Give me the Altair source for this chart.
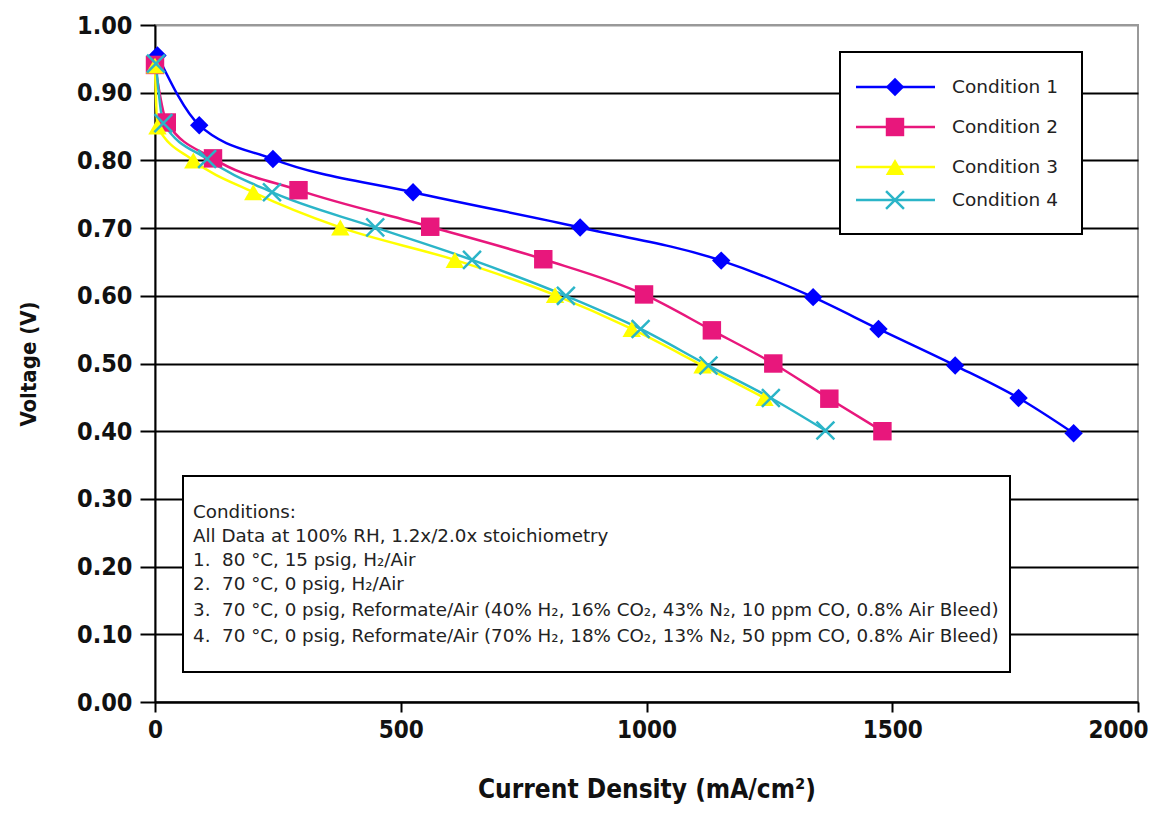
import altair as alt
import pandas as pd

conditions = ["Condition 1", "Condition 2", "Condition 3", "Condition 4"]
colors = ["#0000FF", "#E8177C", "#FFFF00", "#2BB5C8"]

c1_x = [5, 90, 240, 525, 865, 1152, 1339, 1472, 1628, 1757, 1869]
c1_v = [0.955, 0.852, 0.802, 0.753, 0.701, 0.652, 0.598, 0.551, 0.497, 0.449, 0.397]
c2_x = [0, 24, 118, 292, 560, 790, 995, 1133, 1258, 1372, 1480]
c2_v = [0.941, 0.856, 0.803, 0.756, 0.702, 0.654, 0.602, 0.549, 0.500, 0.448, 0.400]
c3_x = [0, 5, 78, 200, 377, 610, 814, 970, 1114, 1240]
c3_v = [0.940, 0.850, 0.800, 0.753, 0.701, 0.653, 0.601, 0.551, 0.497, 0.449]
c4_x = [2, 17, 106, 238, 448, 645, 836, 988, 1126, 1253, 1364]
c4_v = [0.943, 0.855, 0.802, 0.753, 0.701, 0.653, 0.600, 0.551, 0.497, 0.449, 0.401]

x_ticks = [0, 500, 1000, 1500, 2000]
y_ticks = [0.0, 0.1, 0.2, 0.3, 0.4, 0.5, 0.6, 0.7, 0.8, 0.9, 1.0]

SP = "\u00a0\u00a0"
notes = [
    "Conditions:",
    "All Data at 100% RH, 1.2x/2.0x stoichiometry",
    "1." + SP + "80 °C, 15 psig, H₂/Air",
    "2." + SP + "70 °C, 0 psig, H₂/Air",
    "3." + SP + "70 °C, 0 psig, Reformate/Air (40% H₂, 16% CO₂, 43% N₂, 10 ppm CO, 0.8% Air Bleed)",
    "4." + SP + "70 °C, 0 psig, Reformate/Air (70% H₂, 18% CO₂, 13% N₂, 50 ppm CO, 0.8% Air Bleed)",
]

rows = []
for name, xs, vs in zip(conditions, [c1_x, c2_x, c3_x, c4_x], [c1_v, c2_v, c3_v, c4_v]):
    for i, (a, b) in enumerate(zip(xs, vs)):
        rows.append({"Condition": name, "cd": a, "v": b, "i": i})
df = pd.DataFrame(rows)

W, H = 983, 677
AXF = "Liberation Sans Narrow, DejaVu Sans Condensed, sans-serif"
TXF = "DejaVu Sans, sans-serif"

xenc = alt.X("cd:Q", scale=alt.Scale(domain=[0, 2000], nice=False),
             axis=alt.Axis(values=x_ticks, format="d", title="Current Density (mA/cm²)",
                           grid=False, tickSize=10, labelPadding=6, titlePadding=34,
                           labelFlush=False, labelFontSize=24,
                           labelOffset={"condition": {"test": "datum.value >= 2000", "value": -20}, "value": 0}))
yenc = alt.Y("v:Q", scale=alt.Scale(domain=[0, 1], nice=False),
             axis=alt.Axis(values=y_ticks, format=".2f", title="Voltage (V)",
                           grid=True, tickSize=15, labelPadding=8, titlePadding=36,
                           labelFlush=False,
                           gridColor={"condition": {"test": "datum.value >= 1", "value": "#999999"}, "value": "black"},
                           gridWidth=2))
cscale = alt.Scale(domain=conditions, range=colors)

lines = alt.Chart(df).mark_line(strokeWidth=2.5, interpolate="monotone").encode(
    x=xenc, y=yenc,
    color=alt.Color("Condition:N", scale=cscale, legend=None),
    order="i:Q",
)

shape_scale = alt.Scale(domain=conditions[:3], range=["diamond", "square", "triangle-up"])
filled_pts = alt.Chart(df).transform_filter(
    alt.datum.Condition != "Condition 4"
).mark_point(filled=True, size=340, opacity=1).encode(
    x="cd:Q", y="v:Q",
    color=alt.Color("Condition:N", scale=cscale, legend=None),
    shape=alt.Shape("Condition:N", scale=shape_scale, legend=None),
)
XPATH = "M-1,-1L1,1M-1,1L1,-1"
x_pts = alt.Chart(df).transform_filter(
    alt.datum.Condition == "Condition 4"
).mark_point(filled=False, size=320, shape=XPATH, strokeWidth=2.5, opacity=1).encode(
    x="cd:Q", y="v:Q",
    color=alt.Color("Condition:N", scale=cscale, legend=None),
)

one = alt.Data(values=[{"a": 1}])

# legend box
leg_layers = [
    alt.Chart(one).mark_rect(fill="white", stroke="black", strokeWidth=2).encode(
        x=alt.value(685), x2=alt.value(927), y=alt.value(27), y2=alt.value(209))
]
leg_rows = [62, 102, 142, 175]
leg_shapes = ["diamond", "square", "triangle-up", XPATH]
for name, col, ly, shp in zip(conditions, colors, leg_rows, leg_shapes):
    leg_layers.append(alt.Chart(one).mark_rule(color=col, strokeWidth=2.5).encode(
        x=alt.value(701), x2=alt.value(780), y=alt.value(ly)))
    if shp == XPATH:
        leg_layers.append(alt.Chart(one).mark_point(shape=shp, filled=False, color=col, size=320,
                                                    strokeWidth=2.5, opacity=1).encode(
            x=alt.value(740), y=alt.value(ly)))
    else:
        leg_layers.append(alt.Chart(one).mark_point(shape=shp, filled=True, color=col, size=340,
                                                    opacity=1).encode(
            x=alt.value(740), y=alt.value(ly)))
    leg_layers.append(alt.Chart(one).mark_text(text=name, align="left", baseline="middle",
                                               font=TXF, fontSize=18.5, color="#222222").encode(
        x=alt.value(797), y=alt.value(ly)))

# notes box
note_layers = [
    alt.Chart(one).mark_rect(fill="white", stroke="black", strokeWidth=2).encode(
        x=alt.value(28), x2=alt.value(855), y=alt.value(451), y2=alt.value(647))
]
note_rows = [488, 512, 536, 560, 586, 612]
for t, ny in zip(notes, note_rows):
    note_layers.append(alt.Chart(one).mark_text(text=t, align="left", baseline="middle",
                                                font=TXF, fontSize=18.3, color="#222222").encode(
        x=alt.value(38), y=alt.value(ny)))

chart = alt.layer(lines, filled_pts, x_pts, *leg_layers, *note_layers).properties(
    width=W, height=H,
    autosize=alt.AutoSizeParams(type="none"),
    padding={"left": 147, "top": 17, "right": 16, "bottom": 103},
).configure_view(stroke="#999999", strokeWidth=2).configure_axis(
    domainColor="black", domainWidth=2, tickColor="black", tickWidth=2,
    labelFont=AXF, labelFontSize=25, labelFontWeight="bold", labelColor="#111111",
    titleFont=AXF, titleFontSize=26, titleFontWeight="bold", titleColor="#111111",
).configure_axisY(titleFontSize=22)

chart.save("out.html", embed_options={"renderer": "svg", "actions": False})
